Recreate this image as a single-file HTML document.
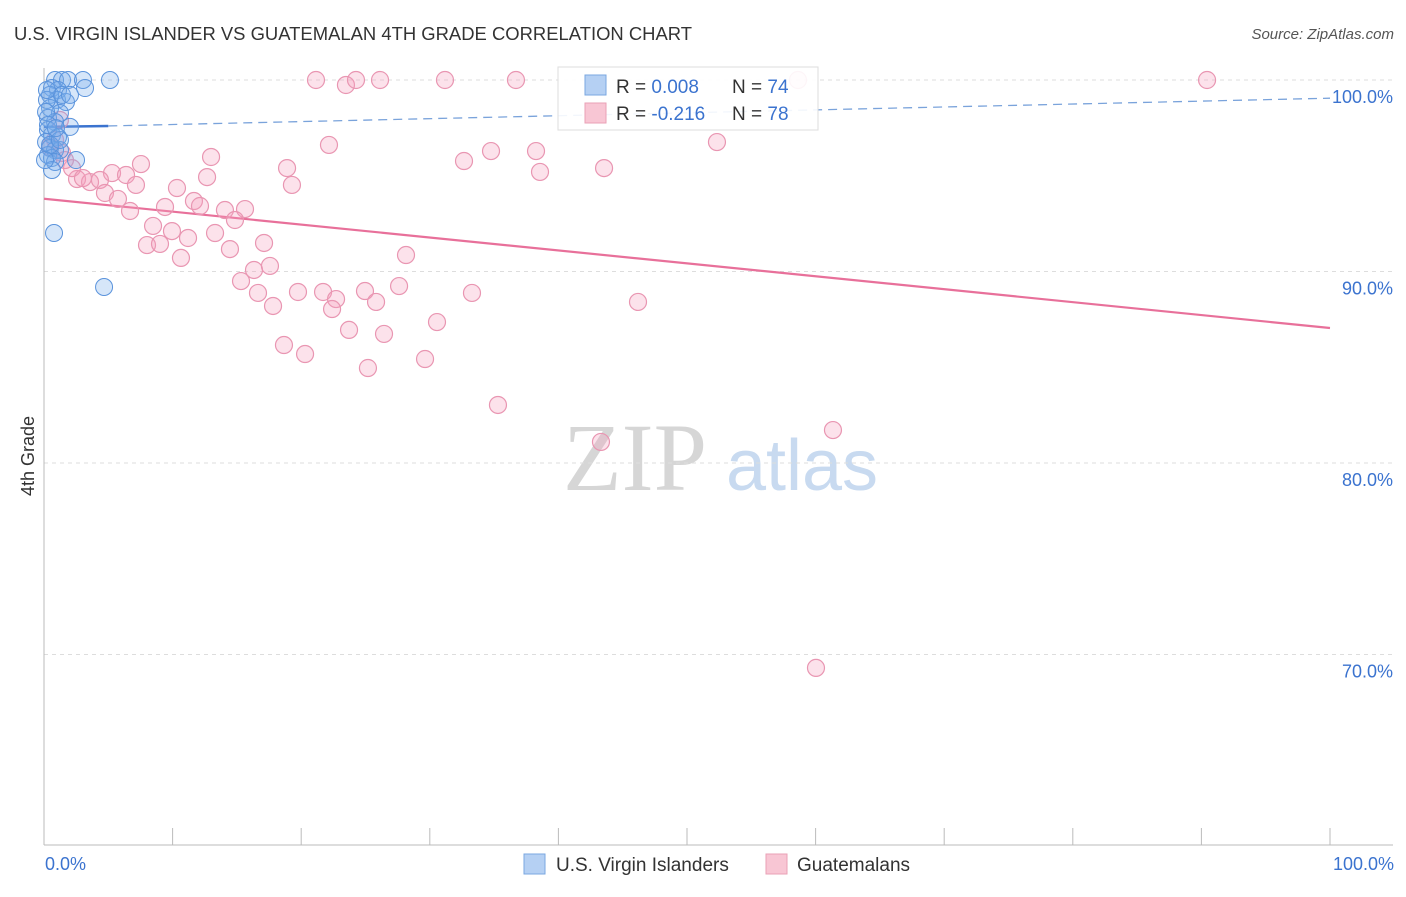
<!DOCTYPE html>
<html><head><meta charset="utf-8"><style>
body{margin:0;background:#fff;font-family:"Liberation Sans",sans-serif}
</style></head><body>
<svg width="1406" height="892" viewBox="0 0 1406 892" xmlns="http://www.w3.org/2000/svg" font-family="Liberation Sans, sans-serif">
<text x="14" y="40" font-size="18" fill="#333" textLength="678" lengthAdjust="spacingAndGlyphs">U.S. VIRGIN ISLANDER VS GUATEMALAN 4TH GRADE CORRELATION CHART</text>
<text x="1394" y="39" font-size="15" fill="#555" font-style="italic" text-anchor="end">Source: ZipAtlas.com</text>
<g>
<text x="635" y="490" font-size="96" fill="#d6d6d6" text-anchor="middle" font-family="Liberation Serif, serif">ZIP</text>
<text x="802" y="490" font-size="72" fill="#c8daf0" text-anchor="middle">atlas</text>
</g>
<g id="grid"></g>
<g id="axes"></g>
<text transform="translate(34,456) rotate(-90)" font-size="18" fill="#333" text-anchor="middle">4th Grade</text>
<text x="45" y="870" font-size="18" fill="#3b73cf">0.0%</text>
<text x="1394" y="870" font-size="18" fill="#3b73cf" text-anchor="end">100.0%</text>
<g id="trends"></g>
<g id="points"></g>
<g>
<rect x="558" y="67" width="260" height="63" fill="#fff" fill-opacity="0.9" stroke="#ddd"/>
<rect x="585" y="75" width="21" height="20" fill="#b5d0f3" stroke="#7aa7e0"/>
<rect x="585" y="103" width="21" height="20" fill="#f8c6d4" stroke="#eaa0b6"/>
<text x="616" y="93" font-size="19" fill="#333">R = <tspan fill="#3b73cf">0.008</tspan></text>
<text x="732" y="93" font-size="19" fill="#333">N = <tspan fill="#3b73cf">74</tspan></text>
<text x="616" y="120" font-size="19" fill="#333">R = <tspan fill="#3b73cf">-0.216</tspan></text>
<text x="732" y="120" font-size="19" fill="#333">N = <tspan fill="#3b73cf">78</tspan></text>
</g>
<g>
<rect x="524" y="854" width="21" height="20" fill="#b5d0f3" stroke="#7aa7e0"/>
<text x="556" y="871" font-size="19" fill="#333">U.S. Virgin Islanders</text>
<rect x="766" y="854" width="21" height="20" fill="#f8c6d4" stroke="#eaa0b6"/>
<text x="797" y="871" font-size="19" fill="#333">Guatemalans</text>
</g>
</svg>
<script>
const yTicks=[100,90,80,70];
const yTickLabels=["100.0%","90.0%","80.0%","70.0%"];
const xTicks=[0,10,20,30,40,50,60,70,80,90,100];
const blueX=[0.86,1.40,1.87,3.03,5.13,0.62,1.09,3.19,0.47,1.01,1.71,0.47,1.24,0.31,0.86,2.02,0.31,0.62,1.09,0.16,0.47,0.86,1.24,0.31,0.62,2.49,0.86,0.62,0.78,4.67,0.23,0.16,0.31,0.47,0.08,1.40,2.02,1.24,0.93,0.23];
const blueY=[100,100,100,100,100,99.58,99.48,99.58,99.22,98.96,98.85,98.54,98.28,98.02,97.81,97.55,97.39,97.13,97.02,96.76,96.45,96.34,96.34,96.08,95.93,95.82,95.72,95.30,92.01,89.19,98.96,98.33,97.65,96.61,95.82,99.22,99.22,96.87,97.49,99.48];
const pinkX=[21.15,23.48,24.26,26.13,31.18,36.70,58.63,90.44,22.16,12.99,32.66,34.76,38.26,38.57,43.55,52.33,7.54,18.90,12.68,19.28,5.29,6.38,7.15,2.57,3.58,4.35,2.18,4.74,5.75,6.69,10.34,9.41,11.66,12.13,14.07,15.63,14.85,8.48,9.95,13.30,11.20,8.01,9.02,14.46,17.11,10.65,28.15,16.33,17.57,15.32,16.64,17.81,19.75,21.70,22.71,22.40,24.96,25.82,27.61,33.28,46.19,30.56,23.72,26.44,18.66,20.30,29.63,25.19,35.30,43.31,61.35,60.03,1.40,0.86,1.24,0.47,1.63,3.03];
const pinkY=[100,99.74,100,100,100,100,100,100,96.61,95.98,95.77,96.29,96.29,95.20,95.40,96.76,95.61,95.40,94.93,94.52,95.14,95.04,94.52,94.83,94.67,94.78,95.40,94.10,93.79,93.16,94.36,93.37,93.68,93.42,93.21,93.26,92.69,92.38,92.11,92.01,91.75,91.38,91.44,91.17,91.49,90.71,90.86,90.08,90.29,89.50,88.88,88.20,88.93,88.93,88.56,88.04,88.98,88.41,89.24,88.88,88.41,87.36,86.95,86.74,86.16,85.69,85.43,84.96,83.03,81.10,81.72,69.30,96.19,96.87,97.91,96.50,95.82,94.88];
const blueTrend=[[0,97.55],[5,97.6],[100,99.05]];
const pinkTrend=[[0,93.8],[100,87.05]];
const NS="http://www.w3.org/2000/svg";
const sx=v=>44+v*12.86;
const sy=v=>80+(100-v)*19.15;
function mk(t,a,p){const e=document.createElementNS(NS,t);for(const k in a)e.setAttribute(k,a[k]);p.appendChild(e);return e;}
const grid=document.getElementById('grid'),axes=document.getElementById('axes');
yTicks.forEach((t,i)=>{
 const l=mk('line',{x1:44,x2:1393,y1:sy(t),y2:sy(t),stroke:'#ddd','stroke-dasharray':'4,4'},grid);
 
 
 const tx=mk('text',{x:1393,y:sy(t)+23,'font-size':18,fill:'#3b73cf','text-anchor':'end'},grid);
 tx.textContent=yTickLabels[i];
 
 
});
const ax=mk('line',{x1:44,x2:44,y1:68,y2:845,stroke:'#bbb'},axes);


const bx=mk('line',{x1:44,x2:1393,y1:845,y2:845,stroke:'#bbb'},axes);


xTicks.forEach(t=>{
 const l=mk('line',{x1:sx(t),x2:sx(t),y1:828,y2:845,stroke:'#bbb'},axes);
 
 
});
const tr=document.getElementById('trends');
const b1=mk('line',{x1:sx(blueTrend[0][0]),y1:sy(blueTrend[0][1]),x2:sx(blueTrend[1][0]),y2:sy(blueTrend[1][1]),stroke:'#3b73cf','stroke-width':2.5},tr);


const b2=mk('line',{x1:sx(blueTrend[1][0]),y1:sy(blueTrend[1][1]),x2:sx(blueTrend[2][0]),y2:sy(blueTrend[2][1]),stroke:'#7aa3db','stroke-width':1.3,'stroke-dasharray':'9,6'},tr);


const p1=mk('line',{x1:sx(pinkTrend[0][0]),y1:sy(pinkTrend[0][1]),x2:sx(pinkTrend[1][0]),y2:sy(pinkTrend[1][1]),stroke:'#e8709a','stroke-width':2.2},tr);


const pts=document.getElementById('points');
pinkX.forEach((x,i)=>{
 const c=mk('circle',{cx:sx(x),cy:sy(pinkY[i]),r:8.5,fill:'rgba(244,160,188,0.3)',stroke:'#e996b2','stroke-width':1.2},pts);
 
 
});
blueX.forEach((x,i)=>{
 const c=mk('circle',{cx:sx(x),cy:sy(blueY[i]),r:8.5,fill:'rgba(120,172,236,0.3)',stroke:'#5a93dc','stroke-width':1},pts);
 
 
});
</script>
</body></html>
